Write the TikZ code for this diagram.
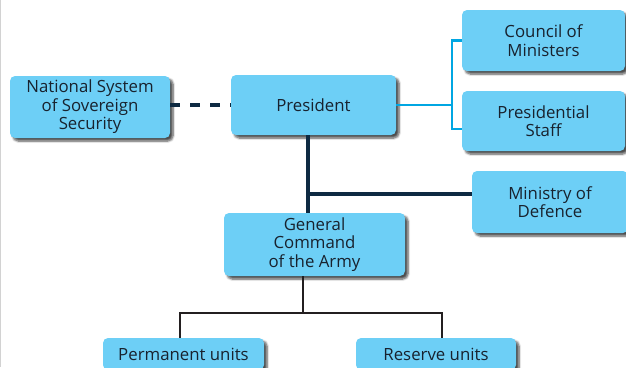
\documentclass[tikz,border=0pt]{standalone}
\usepackage{fontspec}
\setmainfont{Open Sans}
\usetikzlibrary{positioning,calc,shadows.blur}
\definecolor{boxblue}{RGB}{109,207,246}
\definecolor{linkcyan}{RGB}{0,166,226}
\definecolor{darknavy}{RGB}{14,42,66}
\definecolor{textnavy}{RGB}{24,34,46}
\definecolor{branchblack}{RGB}{35,31,32}

\begin{document}
\begin{tikzpicture}[x=1pt,y=-1pt,
	unit/.style={fill=boxblue,rounded corners=5pt,align=center,text=textnavy,inner sep=0pt,
		font=\fontsize{16.8}{18.5}\selectfont,
		blur shadow={shadow xshift=3pt,shadow yshift=-3pt,shadow blur steps=6,shadow opacity=70}},
	navyline/.style={line width=3.2pt,color=darknavy},
	cyanline/.style={line width=2.6pt,color=linkcyan},
	blackline/.style={line width=2.5pt,color=branchblack}]
	\useasboundingbox (0,0) rectangle (626,367);
	\draw[gray!35,line width=1.2pt] (0.6,0) -- (0.6,367);
	%\draw[help lines] (0,0) grid[step=50] (626,367);
	\node[unit,minimum width=160pt,minimum height=62pt] (nss) at (90,107) {National System\\of Sovereign\\Security};
	\node[unit,minimum width=165pt,minimum height=60pt] (pres) at (313.5,105) {President};
	\node[unit,minimum width=163pt,minimum height=61pt] (council) at (543.5,40.5) {Council of\\Ministers};
	\node[unit,minimum width=163pt,minimum height=60pt] (staff) at (543.5,121) {Presidential\\Staff};
	\node[unit,minimum width=156pt,minimum height=62pt] (mod) at (550,202) {Ministry of\\Defence};
	\node[unit,minimum width=181pt,minimum height=63pt] (gca) at (314.5,244.5) {General\\Command\\of the Army};
	\node[unit,minimum width=161pt,minimum height=32pt] (perm) at (183.5,354) {Permanent units};
	\node[unit,minimum width=160pt,minimum height=32pt] (res) at (436,354) {Reserve units};
	% links
	\draw[navyline,dash pattern=on 10pt off 10pt] ([yshift=2pt]nss.east) -- (pres.west);
	\coordinate (split) at (452,105);
	\draw[cyanline] (pres.east) -- (split);
	\draw[cyanline] (council.west) -| (split) |- ([yshift=-8pt]staff.west);
	\coordinate (trunk) at (308,194);
	\draw[navyline] (pres.south -| trunk) -- (gca.north -| trunk);
	\draw[navyline] (trunk) -- (trunk -| mod.west);
	\coordinate (branch) at (303,313);
	\draw[blackline] (gca.south -| branch) -- (branch);
	\draw[blackline] ([xshift=-3.5pt]perm.north) |- (branch) -| ([xshift=6pt]res.north);
\end{tikzpicture}
\end{document}
